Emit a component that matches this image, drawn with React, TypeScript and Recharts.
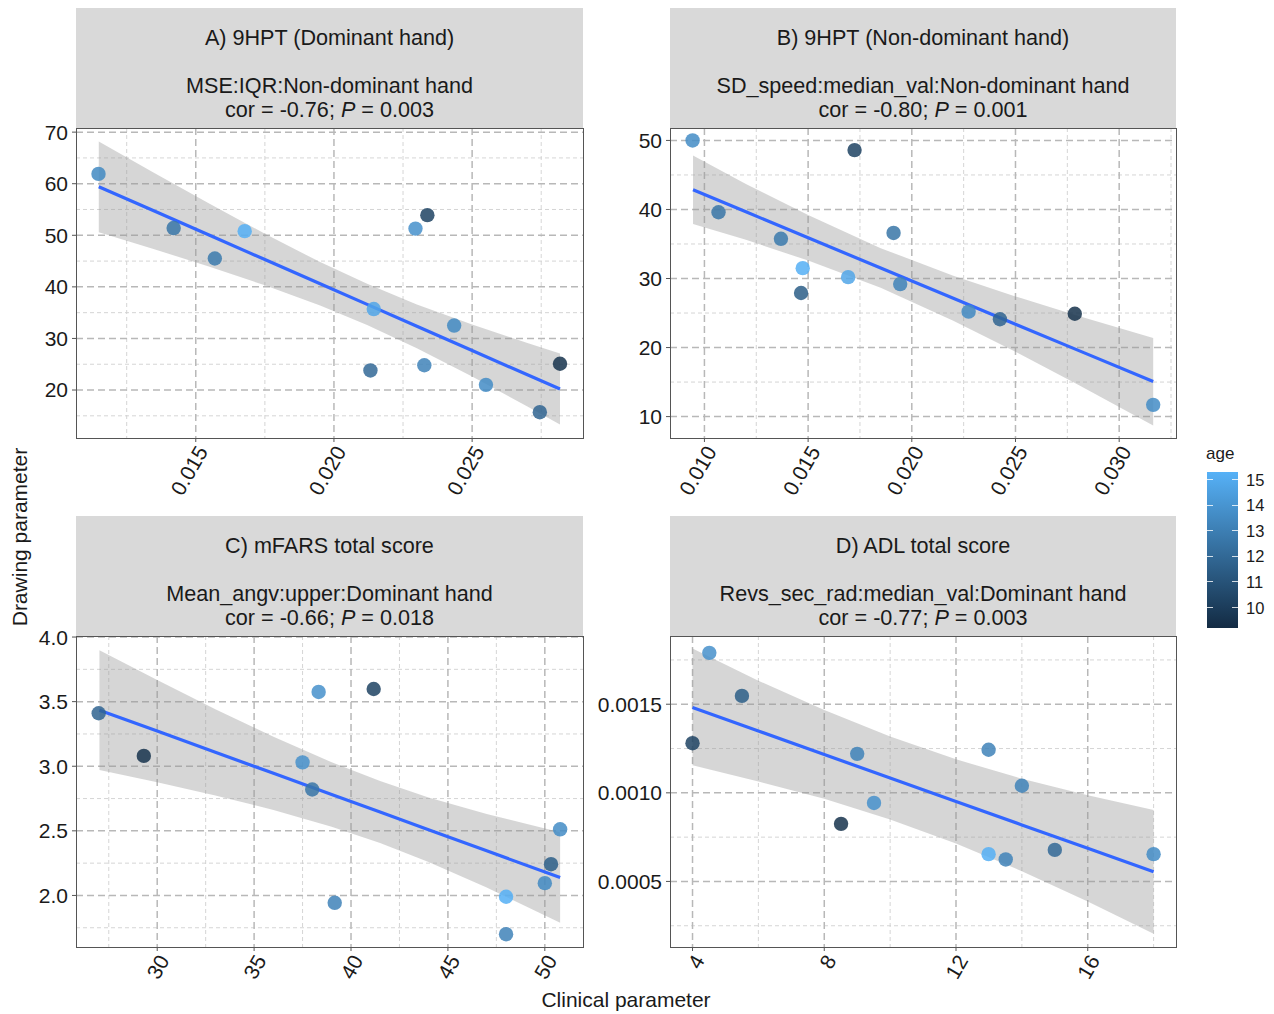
import { ComposedChart, Area, Line, Scatter, XAxis, YAxis, CartesianGrid } from 'recharts'

const FONT = '"Liberation Sans", Arial, Helvetica, sans-serif'
const TXT = '#1a1a1a'

// age colour scale (ggplot default gradient)
const AGE_MIN = 9.2
const AGE_MAX = 15.3
const AGE_TICKS = [10, 11, 12, 13, 14, 15]
const LOW_RGB = [0x13, 0x2b, 0x43]
const HIGH_RGB = [0x56, 0xb1, 0xf7]

// A) 9HPT (Dominant hand)
const aX = [0.01148, 0.0142, 0.01569, 0.01677, 0.02144, 0.02132, 0.02295, 0.02338, 0.02327, 0.02435, 0.0255, 0.02745, 0.02818]
const aY = [61.9, 51.4, 45.5, 50.8, 35.7, 23.8, 51.3, 53.9, 24.8, 32.5, 21.0, 15.7, 25.1]
const aAge = [13.5, 12.6, 12.8, 15.2, 14.8, 12.0, 13.8, 10.3, 13.2, 13.5, 13.6, 11.8, 9.5]
const aBandX = [0.01149, 0.0135, 0.0155, 0.0175, 0.0195, 0.0212, 0.023, 0.025, 0.027, 0.02818]
const aFit = [59.4, 54.7, 50.0, 45.3, 40.6, 36.6, 32.35, 27.65, 22.95, 20.2]
const aLow = [50.6, 47.3, 43.9, 40.3, 36.4, 32.6, 28.1, 22.6, 16.8, 13.3]
const aHigh = [68.2, 62.1, 56.1, 50.3, 44.8, 40.6, 36.6, 32.7, 29.1, 27.1]

// B) 9HPT (Non-dominant hand)
const bX = [0.00943, 0.01068, 0.01369, 0.01474, 0.01466, 0.01724, 0.01693, 0.01912, 0.01944, 0.02274, 0.02425, 0.02786, 0.03164]
const bY = [50.0, 39.6, 35.75, 31.5, 27.9, 48.6, 30.2, 36.6, 29.2, 25.2, 24.1, 24.9, 11.7]
const bAge = [13.6, 12.6, 12.8, 15.2, 11.5, 10.3, 14.8, 12.6, 13.2, 13.5, 11.8, 9.5, 13.6]
const bBandX = [0.00945, 0.012, 0.015, 0.0185, 0.022, 0.025, 0.028, 0.03164]
const bFit = [42.85, 39.66, 35.9, 31.52, 27.14, 23.38, 19.63, 15.07]
const bLow = [37.9, 35.6, 32.6, 28.65, 23.9, 19.4, 14.65, 8.7]
const bHigh = [47.8, 43.7, 39.2, 34.4, 30.4, 27.4, 24.6, 21.4]

// C) mFARS total score
const cX = [26.98, 29.31, 38.33, 41.17, 37.5, 38.0, 39.16, 48.0, 48.0, 50.0, 50.32, 50.79]
const cY = [3.41, 3.08, 3.575, 3.598, 3.03, 2.82, 1.943, 1.99, 1.7, 2.095, 2.242, 2.512]
const cAge = [11.8, 9.5, 13.8, 10.3, 13.8, 12.6, 13.2, 15.2, 13.2, 13.5, 11.5, 13.6]
const cBandX = [27.02, 30, 33, 36, 39, 41.5, 44, 47, 50.79]
const cFit = [3.434, 3.272, 3.108, 2.945, 2.781, 2.645, 2.509, 2.345, 2.139]
const cLow = [2.971, 2.876, 2.774, 2.662, 2.531, 2.405, 2.258, 2.061, 1.788]
const cHigh = [3.897, 3.667, 3.442, 3.228, 3.031, 2.885, 2.759, 2.63, 2.49]

// D) ADL total score
const dX = [4.0, 4.51, 5.5, 9.0, 9.51, 8.51, 12.99, 14.0, 12.99, 13.51, 15.0, 18.0]
const dY = [0.00128, 0.00179, 0.001547, 0.00122, 0.000943, 0.000825, 0.001243, 0.00104, 0.000654, 0.000624, 0.000678, 0.000654]
const dAge = [10.3, 13.8, 11.5, 13.2, 13.8, 9.5, 13.2, 13.2, 15.2, 13.2, 12.0, 13.6]
const dBandX = [4, 6, 8, 10, 12, 14, 16, 18]
const dFit = [0.001481, 0.001349, 0.001216, 0.001084, 0.000951, 0.000819, 0.000687, 0.000554]
const dLow = [0.001155, 0.001064, 0.000966, 0.00085, 0.000714, 0.000558, 0.000387, 0.000205]
const dHigh = [0.001815, 0.001633, 0.001467, 0.001318, 0.001189, 0.00108, 0.000987, 0.000903]

function ageColor(age: number) {
  const t = Math.max(0, Math.min(1, (age - AGE_MIN) / (AGE_MAX - AGE_MIN)))
  const c = LOW_RGB.map((l, i) => Math.round(l + (HIGH_RGB[i] - l) * t))
  return `rgb(${c[0]},${c[1]},${c[2]})`
}

const panels = [
  {
    key: 'A', title: 'A) 9HPT (Dominant hand)', sub: 'MSE:IQR:Non-dominant hand', cor: '-0.76', p: '0.003',
    box: { left: 76, top: 128, right: 583, bottom: 438 },
    x: aX, y: aY, age: aAge, bandX: aBandX, fit: aFit, lo: aLow, hi: aHigh,
    xDomain: [0.010666, 0.029012], yDomain: [10.7, 70.8],
    xTicks: [0.015, 0.02, 0.025], xMinor: [0.0125, 0.0175, 0.0225, 0.0275],
    yTicks: [20, 30, 40, 50, 60, 70], yMinor: [15, 25, 35, 45, 55, 65],
    xFmt: (v: number) => v.toFixed(3), yFmt: (v: number) => String(v),
  },
  {
    key: 'B', title: 'B) 9HPT (Non-dominant hand)', sub: 'SD_speed:median_val:Non-dominant hand', cor: '-0.80', p: '0.001',
    box: { left: 670, top: 128, right: 1176, bottom: 438 },
    x: bX, y: bY, age: bAge, bandX: bBandX, fit: bFit, lo: bLow, hi: bHigh,
    xDomain: [0.00834, 0.03274], yDomain: [6.9, 51.8],
    xTicks: [0.01, 0.015, 0.02, 0.025, 0.03], xMinor: [0.0125, 0.0175, 0.0225, 0.0275, 0.0325],
    yTicks: [10, 20, 30, 40, 50], yMinor: [15, 25, 35, 45],
    xFmt: (v: number) => v.toFixed(3), yFmt: (v: number) => String(v),
  },
  {
    key: 'C', title: 'C) mFARS total score', sub: 'Mean_angv:upper:Dominant hand', cor: '-0.66', p: '0.018',
    box: { left: 76, top: 636, right: 583, bottom: 947 },
    x: cX, y: cY, age: cAge, bandX: cBandX, fit: cFit, lo: cLow, hi: cHigh,
    xDomain: [25.81, 51.97], yDomain: [1.601, 4.008],
    xTicks: [30, 35, 40, 45, 50], xMinor: [27.5, 32.5, 37.5, 42.5, 47.5],
    yTicks: [2, 2.5, 3, 3.5, 4], yMinor: [1.75, 2.25, 2.75, 3.25, 3.75],
    xFmt: (v: number) => String(v), yFmt: (v: number) => v.toFixed(1),
  },
  {
    key: 'D', title: 'D) ADL total score', sub: 'Revs_sec_rad:median_val:Dominant hand', cor: '-0.77', p: '0.003',
    box: { left: 670, top: 636, right: 1176, bottom: 947 },
    x: dX, y: dY, age: dAge, bandX: dBandX, fit: dFit, lo: dLow, hi: dHigh,
    xDomain: [3.316, 18.68], yDomain: [0.00013, 0.001885],
    xTicks: [4, 8, 12, 16], xMinor: [6, 10, 14, 18],
    yTicks: [0.0005, 0.001, 0.0015], yMinor: [0.00025, 0.00075, 0.00125, 0.00175],
    xFmt: (v: number) => String(v), yFmt: (v: number) => v.toFixed(4),
  },
]

const YW = 90
const MT = 10
const MR = 12
const XH = 70

function RotTick(props: any) {
  const { x, y, payload, fmt } = props
  return (
    <text x={x} y={y} transform={`rotate(-60 ${x} ${y})`} textAnchor="end" dy="0.71em"
      fontSize={21} fill={TXT} fontFamily={FONT}>
      {fmt(payload.value)}
    </text>
  )
}

function Panel({ p }: { p: (typeof panels)[number] }) {
  const points = p.x.map((x, i) => ({ x, y: p.y[i], age: p.age[i] }))
  const band = p.bandX.map((x, i) => ({ x, fit: p.fit[i], band: [p.lo[i], p.hi[i]] }))
  const plotW = p.box.right - p.box.left
  const plotH = p.box.bottom - p.box.top
  return (
    <>
      <div style={{
        position: 'absolute', left: p.box.left, top: p.box.top - 120, width: plotW, height: 120,
        background: '#d9d9d9', color: TXT, fontSize: 21.6, textAlign: 'center', lineHeight: '24px',
        boxSizing: 'border-box', paddingTop: 18, whiteSpace: 'nowrap',
      }}>
        <div>{p.title}</div>
        <div>&nbsp;</div>
        <div>{p.sub}</div>
        <div>cor = {p.cor}; <i>P</i> = {p.p}</div>
      </div>
      <div style={{ position: 'absolute', left: p.box.left - YW, top: p.box.top - MT }}>
        <ComposedChart width={YW + plotW + MR} height={MT + plotH + XH} data={band}
          margin={{ top: MT, right: MR, left: 0, bottom: 0 }}>
          <CartesianGrid verticalValues={p.xMinor} horizontalValues={p.yMinor}
            stroke="#d0d0d0" strokeDasharray="4 3" strokeWidth={0.9} />
          <CartesianGrid verticalValues={p.xTicks} horizontalValues={p.yTicks}
            stroke="#b8b8b8" strokeDasharray="7 4" strokeWidth={1.5} />
          <XAxis type="number" dataKey="x" domain={p.xDomain} ticks={p.xTicks} allowDataOverflow
            interval={0} height={XH} axisLine={false} tickSize={4} tickMargin={2}
            tickLine={{ stroke: '#555' }} tick={<RotTick fmt={p.xFmt} />} />
          <YAxis type="number" dataKey="y" domain={p.yDomain} ticks={p.yTicks} allowDataOverflow
            interval={0} width={YW} axisLine={false} tickSize={4} tickMargin={4}
            tickLine={{ stroke: '#555' }} tickFormatter={p.yFmt}
            tick={{ fontSize: 21, fill: TXT, fontFamily: FONT }} />
          <Area dataKey="band" type="linear" fill="#999999" fillOpacity={0.4} stroke="none"
            isAnimationActive={false} activeDot={false} />
          <Line dataKey="fit" type="linear" stroke="#3366ff" strokeWidth={3.2} dot={false}
            isAnimationActive={false} activeDot={false} />
          <Scatter data={points} dataKey="y" isAnimationActive={false}
            shape={(s: any) => (
              <circle cx={s.cx} cy={s.cy} r={7.2} fill={ageColor(s.payload.age)} fillOpacity={0.85} />
            )} />
        </ComposedChart>
      </div>
      <div style={{
        position: 'absolute', left: p.box.left, top: p.box.top, width: plotW + 1, height: plotH + 1,
        border: '1px solid #555', boxSizing: 'border-box', pointerEvents: 'none',
      }} />
    </>
  )
}

const BAR_TOP = 472
const BAR_BOTTOM = 628
const BAR_LEFT = 1207
const BAR_W = 31

function AgeLegend() {
  const yOf = (a: number) => BAR_BOTTOM - ((a - AGE_MIN) / (AGE_MAX - AGE_MIN)) * (BAR_BOTTOM - BAR_TOP)
  return (
    <>
      <div style={{ position: 'absolute', left: BAR_LEFT - 1, top: 444, fontSize: 17, color: TXT }}>age</div>
      <div style={{
        position: 'absolute', left: BAR_LEFT, top: BAR_TOP, width: BAR_W, height: BAR_BOTTOM - BAR_TOP,
        background: `linear-gradient(to top, ${ageColor(AGE_MIN)}, ${ageColor(AGE_MAX)})`,
      }} />
      {AGE_TICKS.map((a) => (
        <div key={a}>
          <div style={{ position: 'absolute', left: BAR_LEFT, top: yOf(a) - 0.5, width: 6, height: 1, background: 'rgba(255,255,255,0.8)' }} />
          <div style={{ position: 'absolute', left: BAR_LEFT + BAR_W - 6, top: yOf(a) - 0.5, width: 6, height: 1, background: 'rgba(255,255,255,0.8)' }} />
          <div style={{ position: 'absolute', left: BAR_LEFT + BAR_W + 8, top: yOf(a) - 10, fontSize: 16.5, lineHeight: '20px', color: TXT }}>{a}</div>
        </div>
      ))}
    </>
  )
}

export default function App() {
  return (
    <div style={{
      position: 'absolute', left: 0, top: 0, width: 1274, height: 1014, background: '#fff',
      fontFamily: FONT, overflow: 'hidden',
    }}>
      {panels.map((p) => <Panel key={p.key} p={p} />)}
      <div style={{
        position: 'absolute', left: 20, top: 537, transform: 'translate(-50%, -50%) rotate(-90deg)',
        fontSize: 21, color: TXT, whiteSpace: 'nowrap',
      }}>Drawing parameter</div>
      <div style={{
        position: 'absolute', left: 626, top: 1000, transform: 'translate(-50%, -50%)',
        fontSize: 21, color: TXT, whiteSpace: 'nowrap',
      }}>Clinical parameter</div>
      <AgeLegend />
    </div>
  )
}
